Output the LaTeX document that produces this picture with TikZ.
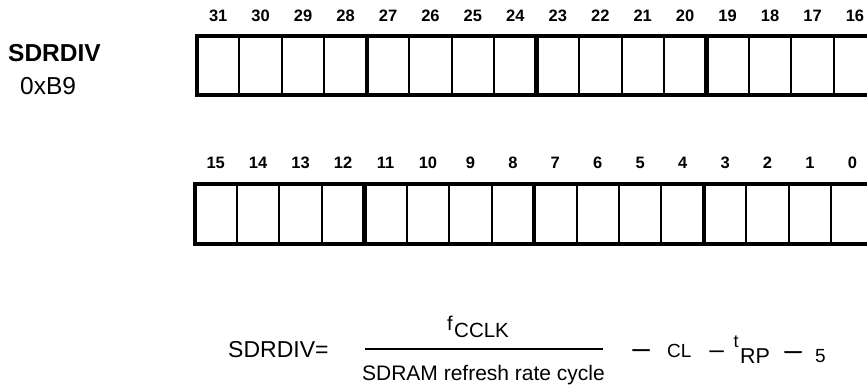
\documentclass[tikz,border=0pt]{standalone}
\usepackage{fontspec}
\setmainfont{Liberation Sans}
\newcommand{\fsz}[1]{\fontsize{#1}{#1}\selectfont}

\begin{document}
\begin{tikzpicture}[x=1pt, y=-1pt, inner sep=0pt,
    bitnum/.style={font=\fsz{16.5}\bfseries},
    minus/.style={font=\fsz{#1}\bfseries\addfontfeature{FakeBold=2.5}},
    cellsep/.style={line width=2pt},
    nibsep/.style={line width=4.5pt},
    regframe/.style={line width=4pt}]
    \useasboundingbox (0,0) rectangle (867,386);

    \node[anchor=west, font=\fsz{24.5}\bfseries] (regname) at (8,53.5) {SDRDIV};
    \node[anchor=west, font=\fsz{24.5}] (regaddr) at (20,86) {0xB9};

    % two register rows: left edge / top edge / label height / highest bit
    \foreach \lx/\ty/\ly/\hb in {197/35.5/16/31, 194.5/184/162.5/15} {
        \foreach \k in {1,...,15}
            \draw[cellsep] ({\lx+42.45*\k},\ty) -- ++(0,59.5);
        \foreach \k in {4,8,12}
            \draw[nibsep] ({\lx+42.45*\k},\ty) -- ++(0,59.5);
        \draw[regframe] (\lx,\ty) rectangle ++(680,59.5);
        \foreach \k in {0,...,15} {
            \pgfmathtruncatemacro{\bit}{\hb-\k}
            \node[bitnum] (bit\bit) at ({\lx+42.45*\k+21.2},\ly) {\bit};
        }
    }

    \node[anchor=west, font=\fsz{23}] (lhs) at (228,350) {SDRDIV=};
    \coordinate (barl) at (365,349);
    \coordinate (barr) at (603,349);
    \draw[line width=2.5pt] (barl) -- (barr);
    \node[anchor=base west, font=\fsz{20}] (numf) at (447,330) {f};
    \node[anchor=base west, font=\fsz{20.5}] (numclk) at (454,337) {CCLK};
    \node[anchor=base, font=\fsz{21}] (den) at (483.5,380) {SDRAM refresh rate cycle};

    \node[anchor=base, minus=17] (minusa) at (641,354.7) {—};
    \node[anchor=base west, font=\fsz{19}] (cl) at (667,357) {CL};
    \node[anchor=base, minus=14] (minusb) at (716.5,355) {—};
    \node[anchor=base west, font=\fsz{18}] (trp) at (733.5,347) {t};
    \node[anchor=base west, font=\fsz{21.5}] (rp) at (740,363) {RP};
    \node[anchor=base, minus=17] (minusc) at (793,356.7) {—};
    \node[anchor=base west, font=\fsz{19}] (five) at (815,362) {5};
\end{tikzpicture}
\end{document}
